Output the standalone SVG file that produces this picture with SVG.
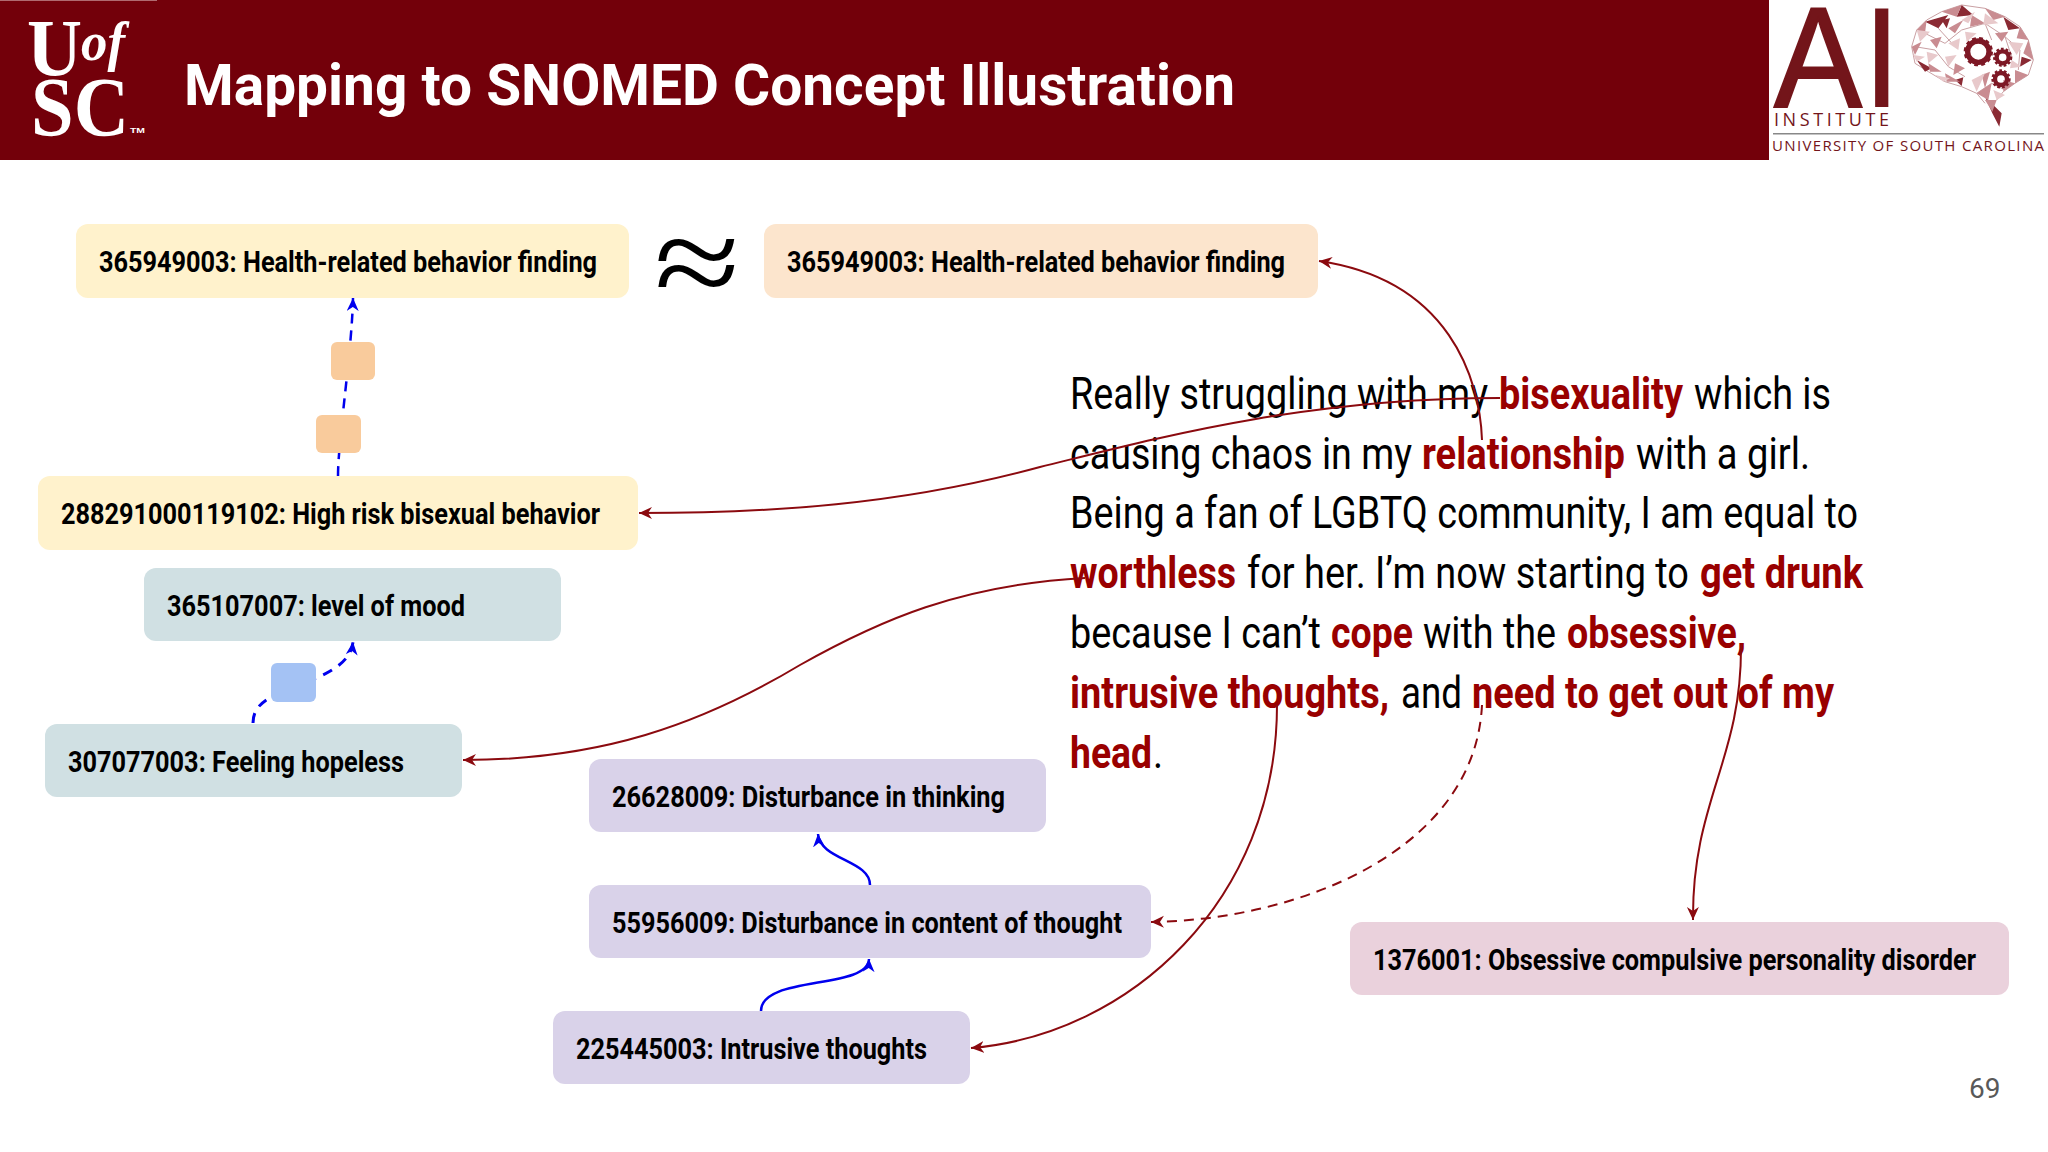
<svg xmlns="http://www.w3.org/2000/svg" width="2048" height="1152" viewBox="0 0 2048 1152">
<style>
.nb{fill:#000;font:700 30px Roboto,sans-serif}
.box{stroke:none}
.t{font:400 45px Roboto,sans-serif;fill:#000}
.r{font:700 45px Roboto,sans-serif;fill:#990000}
.red{fill:none;stroke:#8b0a0f;stroke-width:2}
.blue{fill:none;stroke:#0000ee;stroke-width:2.5}
.dash{stroke-dasharray:10 7}
.bd{stroke-width:3;stroke-dasharray:10 8}
.sq{fill:#f9cb9c}
.a{fill:#8a2a33}.b{fill:#c98c91}.c{fill:#e8c9cb}
.lg{font-family:"Open Sans",sans-serif;fill:#73151a}
</style>
<defs>
<marker id="ar" markerUnits="userSpaceOnUse" markerWidth="16" markerHeight="14" refX="13" refY="6" orient="auto"><path d="M13 6L0 0L4 6L0 12Z" fill="#8b0a0f"/></marker>
<marker id="ab" markerUnits="userSpaceOnUse" markerWidth="16" markerHeight="14" refX="13" refY="6" orient="auto"><path d="M13 6L0 0L4 6L0 12Z" fill="#0000ee"/></marker>
</defs>
<rect width="2048" height="1152" fill="#fff"/>
<g id="header">
<rect x="0" y="0" width="1769" height="160" fill="#73000a"/>
<rect x="0" y="0" width="157" height="1" fill="#b06a70"/>
<text x="184" y="105" font-family="Roboto,sans-serif" font-weight="700" font-size="57" fill="#fff" textLength="1051" lengthAdjust="spacingAndGlyphs">Mapping to SNOMED Concept Illustration</text>
<text x="27" y="75" font-family="'Liberation Serif',serif" font-weight="700" font-size="80" fill="#fff" textLength="55" lengthAdjust="spacingAndGlyphs">U</text>
<text x="81" y="60" font-family="'Liberation Serif',serif" font-style="italic" font-weight="700" font-size="54" fill="#fff" textLength="44" lengthAdjust="spacingAndGlyphs">of</text>
<text x="31" y="136" font-family="'Liberation Serif',serif" font-weight="700" font-size="84" fill="#fff" textLength="98" lengthAdjust="spacingAndGlyphs">SC</text>
<text x="130" y="133" font-family="'Liberation Sans',sans-serif" font-weight="700" font-size="7" fill="#fff" textLength="15" lengthAdjust="spacingAndGlyphs">TM</text>
</g>
<g id="ai-logo">
<text x="1774" y="107" font-family="'Liberation Sans',sans-serif" font-size="142" fill="#73151a" stroke="#73151a" stroke-width="2" textLength="88" lengthAdjust="spacingAndGlyphs">A</text>
<text x="1862" y="107" font-family="'Liberation Sans',sans-serif" font-size="142" fill="#73151a">I</text>
<text class="lg" x="1774" y="126" font-size="18" textLength="115">INSTITUTE</text>
<rect x="1773" y="133" width="271" height="1.5" fill="#888"/>
<text class="lg" x="1772" y="151" font-size="15" textLength="272">UNIVERSITY OF SOUTH CAROLINA</text>
<g id="brain" transform="translate(1905 0) scale(.3333)">
<path fill="none" stroke="#c9a0a3" stroke-width="3" d="M20 140L35 90L65 60L110 35L170 15L240 25L300 50L345 80L370 120L385 180L370 225L330 250L295 275L275 300M20 140L30 190L70 215L120 245L170 260L215 280L240 310M60 100L120 130L170 90L240 70L300 110L345 150L340 210M30 140L90 150L130 200L180 230M100 85L150 140M240 70L260 120M300 110L320 170M215 280L260 250L300 270"/>
<path class="a" d="M60 65L130 45L100 85ZM170 15L205 45L155 50ZM240 290L290 340L283 380L262 340ZM35 180L80 205L60 215ZM295 50L345 85L310 90ZM350 170L380 180L345 200ZM110 60L135 55L125 85ZM150 240L175 232L170 258Z"/>
<path class="b" d="M110 35L170 15L155 50ZM35 90L65 60L60 100ZM20 140L50 125L30 165ZM240 25L300 50L265 60ZM130 85L175 60L150 100ZM200 45L240 70L195 80ZM345 80L370 120L335 115ZM370 120L385 180L355 160ZM70 190L110 215L75 215ZM120 220L165 245L125 245ZM215 280L260 250L250 300ZM330 210L370 225L330 250ZM270 100L310 95L290 125ZM75 120L110 110L95 145ZM230 225L255 215L240 265ZM295 240L330 250L295 275ZM240 300L275 300L262 335ZM150 190L180 205L145 225Z"/>
<path class="c" d="M35 90L75 95L45 125ZM65 155L100 165L70 190ZM25 165L60 170L35 185ZM130 130L165 115L160 150ZM240 40L280 70L235 75ZM310 125L355 130L335 165ZM320 180L350 200L315 205ZM200 240L240 220L215 275ZM120 170L155 165L130 200ZM170 60L210 35L190 70ZM90 225L135 235L115 245ZM265 270L300 285L275 300ZM180 95L215 100L185 125Z"/>
<g id="gears" fill="none" stroke="#7d1825">
<circle cx="220" cy="155" r="32" stroke-width="16"/><circle cx="220" cy="155" r="38" stroke-width="12" stroke-dasharray="11 9"/><circle cx="220" cy="155" r="17" stroke="#fff" stroke-width="3"/>
<circle cx="293" cy="172" r="18" stroke-width="13"/><circle cx="293" cy="172" r="25" stroke-width="8" stroke-dasharray="8 6"/>
<circle cx="288" cy="237" r="18" stroke-width="13"/><circle cx="288" cy="237" r="25" stroke-width="8" stroke-dasharray="8 6"/>
</g>
</g>
</g>
<g id="sentence">
<text class="t" transform="translate(1070 409) scale(.85 1)" textLength="491.8" lengthAdjust="spacingAndGlyphs">Really struggling with my</text>
<text class="r" transform="translate(1499 409) scale(.85 1)" textLength="216.5" lengthAdjust="spacingAndGlyphs">bisexuality</text>
<text class="t" transform="translate(1694 409) scale(.85 1)" textLength="161.2" lengthAdjust="spacingAndGlyphs">which is</text>
<text class="t" transform="translate(1070 469) scale(.85 1)" textLength="402.4" lengthAdjust="spacingAndGlyphs">causing chaos in my</text>
<text class="r" transform="translate(1422 469) scale(.85 1)" textLength="238.8" lengthAdjust="spacingAndGlyphs">relationship</text>
<text class="t" transform="translate(1636 469) scale(.85 1)" textLength="204.7" lengthAdjust="spacingAndGlyphs">with a girl.</text>
<text class="t" transform="translate(1070 528) scale(.85 1)" textLength="927.1" lengthAdjust="spacingAndGlyphs">Being a fan of LGBTQ community, I am equal to</text>
<text class="r" transform="translate(1070 588) scale(.85 1)" textLength="195.3" lengthAdjust="spacingAndGlyphs">worthless</text>
<text class="t" transform="translate(1247 588) scale(.85 1)" textLength="520" lengthAdjust="spacingAndGlyphs">for her. I’m now starting to</text>
<text class="r" transform="translate(1700 588) scale(.85 1)" textLength="191.8" lengthAdjust="spacingAndGlyphs">get drunk</text>
<text class="t" transform="translate(1070 648) scale(.85 1)" textLength="295.3" lengthAdjust="spacingAndGlyphs">because I can’t</text>
<text class="r" transform="translate(1331 648) scale(.85 1)" textLength="96.5" lengthAdjust="spacingAndGlyphs">cope</text>
<text class="t" transform="translate(1423 648) scale(.85 1)" textLength="156.5" lengthAdjust="spacingAndGlyphs">with the</text>
<text class="r" transform="translate(1567 648) scale(.85 1)" textLength="210.6" lengthAdjust="spacingAndGlyphs">obsessive,</text>
<text class="r" transform="translate(1070 708) scale(.85 1)" textLength="375.3" lengthAdjust="spacingAndGlyphs">intrusive thoughts,</text>
<text class="t" transform="translate(1401 708) scale(.85 1)" textLength="71.8" lengthAdjust="spacingAndGlyphs">and</text>
<text class="r" transform="translate(1472 708) scale(.85 1)" textLength="425.9" lengthAdjust="spacingAndGlyphs">need to get out of my</text>
<text class="r" transform="translate(1070 768) scale(.85 1)" textLength="96.5" lengthAdjust="spacingAndGlyphs">head</text>
<text class="t" transform="translate(1153 768) scale(.85 1)">.</text>
</g>
<text id="approx" x="654" y="306" font-family="'Liberation Serif',serif" font-size="130" fill="#000" textLength="86" lengthAdjust="spacingAndGlyphs">≈</text>
<g id="connectors">
<path class="blue dash" d="M338 476C338 440 352 350 353 298" marker-end="url(#ab)"/>
<path class="blue bd" d="M253 723C253 705 268 698 285 690C310 680 350 670 353 642" marker-end="url(#ab)"/>
<path class="blue" d="M870 885C870 860 820 860 818 834" marker-end="url(#ab)"/>
<path class="blue" d="M761 1011C761 975 868 990 869 959" marker-end="url(#ab)"/>
<path class="red" d="M1482 440C1480 380 1450 280 1319 261" marker-end="url(#ar)"/>
<path class="red" d="M1500 398C1300 398 1150 440 1040 467C900 505 770 513 639 513" marker-end="url(#ar)"/>
<path class="red" d="M1085 578C960 585 880 620 800 665C700 725 600 760 463 760" marker-end="url(#ar)"/>
<path class="red" d="M1277 705C1277 900 1130 1035 971 1048" marker-end="url(#ar)"/>
<path class="red dash" d="M1482 705C1475 850 1300 920 1151 922" marker-end="url(#ar)"/>
<path class="red" d="M1741 645C1742 760 1692 800 1693 920" marker-end="url(#ar)"/>
</g>
<g id="n1"><rect class="box" x="76" y="224" width="553" height="74" rx="12" fill="#fff2cc"/><text class="nb" transform="translate(99 272) scale(.85 1)" textLength="585.9" lengthAdjust="spacingAndGlyphs">365949003: Health-related behavior finding</text></g>
<g id="n2"><rect class="box" x="764" y="224" width="554" height="74" rx="12" fill="#fce5cd"/><text class="nb" transform="translate(787 272) scale(.85 1)" textLength="585.9" lengthAdjust="spacingAndGlyphs">365949003: Health-related behavior finding</text></g>
<g id="n3"><rect class="box" x="38" y="476" width="600" height="74" rx="12" fill="#fff2cc"/><text class="nb" transform="translate(61 524) scale(.85 1)" textLength="634.1" lengthAdjust="spacingAndGlyphs">288291000119102: High risk bisexual behavior</text></g>
<g id="n4"><rect class="box" x="144" y="568" width="417" height="73" rx="12" fill="#d0e0e3"/><text class="nb" transform="translate(167 616) scale(.85 1)" textLength="350.6" lengthAdjust="spacingAndGlyphs">365107007: level of mood</text></g>
<g id="n5"><rect class="box" x="45" y="724" width="417" height="73" rx="12" fill="#d0e0e3"/><text class="nb" transform="translate(68 772) scale(.85 1)" textLength="395.3" lengthAdjust="spacingAndGlyphs">307077003: Feeling hopeless</text></g>
<g id="n6"><rect class="box" x="589" y="759" width="457" height="73" rx="12" fill="#d9d2e9"/><text class="nb" transform="translate(612 807) scale(.85 1)" textLength="462.4" lengthAdjust="spacingAndGlyphs">26628009: Disturbance in thinking</text></g>
<g id="n7"><rect class="box" x="589" y="885" width="562" height="73" rx="12" fill="#d9d2e9"/><text class="nb" transform="translate(612 933) scale(.85 1)" textLength="600" lengthAdjust="spacingAndGlyphs">55956009: Disturbance in content of thought</text></g>
<g id="n8"><rect class="box" x="553" y="1011" width="417" height="73" rx="12" fill="#d9d2e9"/><text class="nb" transform="translate(576 1059) scale(.85 1)" textLength="412.9" lengthAdjust="spacingAndGlyphs">225445003: Intrusive thoughts</text></g>
<g id="n9"><rect class="box" x="1350" y="922" width="659" height="73" rx="12" fill="#ead1dc"/><text class="nb" transform="translate(1373 970) scale(.85 1)" textLength="709.4" lengthAdjust="spacingAndGlyphs">1376001: Obsessive compulsive personality disorder</text></g>
<g id="s1"><rect class="sq" x="331" y="342" width="44" height="38" rx="6"/></g>
<g id="s2"><rect class="sq" x="316" y="415" width="45" height="38" rx="6"/></g>
<g id="s3"><rect x="271" y="663" width="45" height="39" rx="6" fill="#a4c2f4"/></g>
<text id="page" x="1969" y="1098" font-family="Roboto,sans-serif" font-size="28" fill="#595959">69</text>
</svg>
